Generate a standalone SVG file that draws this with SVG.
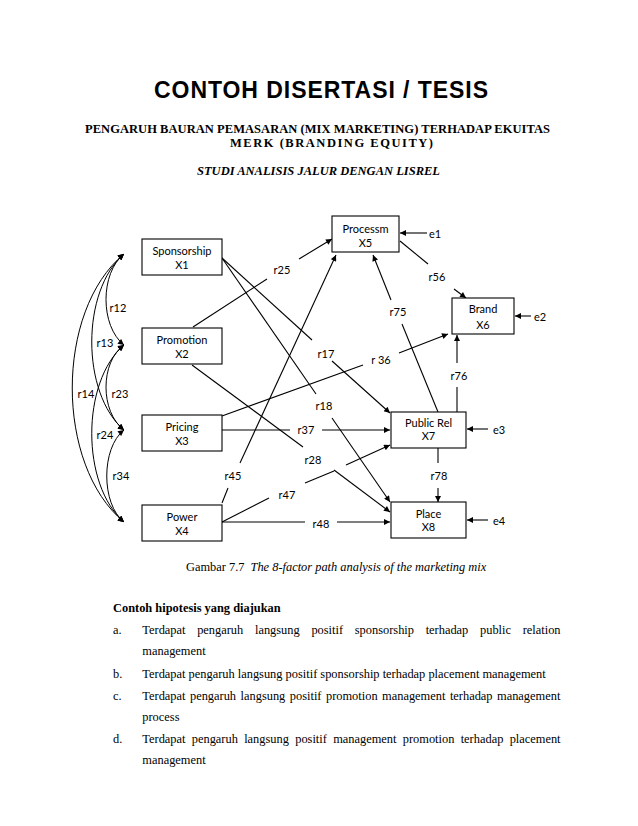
<svg xmlns="http://www.w3.org/2000/svg" width="638" height="826" viewBox="0 0 638 826">
<style>
.bx{fill:#fff;stroke:#000;stroke-width:1.1}
.nt{font-family:Lato,"Liberation Sans",sans-serif;font-size:11px;fill:#000;text-anchor:middle}
.lb{font-family:Lato,"Liberation Sans",sans-serif;font-size:11px;fill:#000;text-anchor:middle;dominant-baseline:central}
.ln{fill:none;stroke:#000;stroke-width:1.1}
.ar{marker-end:url(#ah)}
.cv{fill:none;stroke:#000;stroke-width:1;marker-start:url(#ah);marker-end:url(#ah)}
.tm{font-family:"Liberation Serif","Times New Roman",serif;font-size:12.4px;fill:#000}
.hd{font-family:"Liberation Serif","Times New Roman",serif;font-weight:bold;font-size:12.5px;fill:#000;text-anchor:middle}
</style>
<defs>
<marker id="ah" viewBox="0 0 10 10" refX="10" refY="5" markerWidth="7" markerHeight="6" orient="auto-start-reverse" markerUnits="userSpaceOnUse"><path d="M0,0 L10,5 L0,10 z" fill="#000"/></marker>
</defs>
<rect width="638" height="826" fill="#fff"/>

<g id="titles">
<text x="321" y="98" font-family="Liberation Sans,Arial,sans-serif" font-weight="bold" font-size="23" text-anchor="middle" textLength="334">CONTOH DISERTASI / TESIS</text>
<text class="hd" x="317.5" y="133" textLength="465">PENGARUH BAURAN PEMASARAN (MIX MARKETING) TERHADAP EKUITAS</text>
<text class="hd" x="331.5" y="147.2" textLength="203">MERK (BRANDING EQUITY)</text>
<text class="hd" x="318.5" y="175" font-style="italic" textLength="243">STUDI ANALISIS JALUR DENGAN LISREL</text>
</g>

<g id="connectors">
<path class="ln" d="M193,327 L267,279"/>
<path class="ln ar" d="M299,259 L332,239"/>
<path class="ln" d="M222,258 L312,340"/>
<path class="ln ar" d="M332,361 L390,413"/>
<path class="ln" d="M222,258 L316,394"/>
<path class="ln ar" d="M332,418 L390,502"/>
<path class="ln" d="M192,365 L303,447"/>
<path class="ln ar" d="M334,470 L390,512"/>
<path class="ln" d="M222,416 L363,365"/>
<path class="ln ar" d="M399,353 L448,334"/>
<path class="ln" d="M222,430 L290,430"/>
<path class="ln ar" d="M322,430 L390,430"/>
<path class="ln" d="M222,503 L228,488"/>
<path class="ln ar" d="M240,463 L336,255"/>
<path class="ln" d="M222,522 L269,498"/>
<path class="ln" d="M305,483 L334,471"/>
<path class="ln ar" d="M346,465 L390,445"/>
<path class="ln" d="M222,522 L305,522"/>
<path class="ln ar" d="M337,522 L390,522"/>
<path class="ln" d="M400,241 L428,264"/>
<path class="ln ar" d="M454,289 L466,298"/>
<path class="ln" d="M438,412 L402,324"/>
<path class="ln ar" d="M391,300 L373,255"/>
<path class="ln" d="M457,412 L457,387"/>
<path class="ln ar" d="M457,363 L457,335"/>
<path class="ln" d="M438,448 L438,463"/>
<path class="ln ar" d="M438,488 L438,502"/>
<path class="ln ar" d="M427,233 L400,233"/>
<path class="ln ar" d="M531,316 L515,316"/>
<path class="ln ar" d="M488,429 L467,429"/>
<path class="ln ar" d="M488,520 L467,520"/>
<path class="cv" d="M124,254 C100,273 100,326 124,345"/>
<path class="cv" d="M124,345 C100,362 100,412 124,430"/>
<path class="cv" d="M124,430 C101,448 101,504 124,522"/>
<path class="cv" d="M124,254 C81,291 81,393 124,430"/>
<path class="cv" d="M124,345 C81,382 81,485 124,522"/>
<path class="cv" d="M124,254 C55,311 55,465 124,522"/>
</g>

<g id="labels">
<text class="lb" x="282" y="269">r25</text>
<text class="lb" x="326" y="353">r17</text>
<text class="lb" x="324" y="405">r18</text>
<text class="lb" x="313" y="459">r28</text>
<text class="lb" x="381" y="359">r 36</text>
<text class="lb" x="306" y="429">r37</text>
<text class="lb" x="233" y="475">r45</text>
<text class="lb" x="287" y="494">r47</text>
<text class="lb" x="321" y="523">r48</text>
<text class="lb" x="437" y="276">r56</text>
<text class="lb" x="398" y="311">r75</text>
<text class="lb" x="459" y="375">r76</text>
<text class="lb" x="439" y="475">r78</text>
<text class="lb" x="435" y="233">e1</text>
<text class="lb" x="540" y="316">e2</text>
<text class="lb" x="499" y="429">e3</text>
<text class="lb" x="499" y="520">e4</text>
<text class="lb" x="118" y="307">r12</text>
<text class="lb" x="105" y="342">r13</text>
<text class="lb" x="86" y="393">r14</text>
<text class="lb" x="120" y="393">r23</text>
<text class="lb" x="105" y="434">r24</text>
<text class="lb" x="121" y="475">r34</text>
</g>

<g id="n1"><rect class="bx" x="142" y="239" width="80" height="36"/><text class="nt" x="182" y="255">Sponsorship</text><text class="nt" x="182" y="269">X1</text></g>
<g id="n2"><rect class="bx" x="142" y="328" width="80" height="36"/><text class="nt" x="182" y="344">Promotion</text><text class="nt" x="182" y="358">X2</text></g>
<g id="n3"><rect class="bx" x="142" y="415" width="80" height="36"/><text class="nt" x="182" y="431">Pricing</text><text class="nt" x="182" y="445">X3</text></g>
<g id="n4"><rect class="bx" x="142" y="505" width="80" height="36"/><text class="nt" x="182" y="521">Power</text><text class="nt" x="182" y="535">X4</text></g>
<g id="n5"><rect class="bx" x="332" y="216" width="67" height="36"/><text class="nt" x="365.5" y="232.5">Processm</text><text class="nt" x="365.5" y="246.5">X5</text></g>
<g id="n6"><rect class="bx" x="452" y="298" width="62" height="36"/><text class="nt" x="483" y="313">Brand</text><text class="nt" x="483" y="329">X6</text></g>
<g id="n7"><rect class="bx" x="391" y="412" width="75" height="36"/><text class="nt" x="428.5" y="426.5">Public Rel</text><text class="nt" x="428.5" y="440">X7</text></g>
<g id="n8"><rect class="bx" x="391" y="502" width="75" height="36"/><text class="nt" x="428.5" y="517.5">Place</text><text class="nt" x="428.5" y="531">X8</text></g>

<g id="text">
<text class="tm" x="186" y="571">Gambar 7.7<tspan font-style="italic" dx="6">The 8-factor path analysis of the marketing mix</tspan></text>
<text class="tm" x="113" y="612" font-weight="bold">Contoh hipotesis yang diajukan</text>
<text class="tm" x="113" y="634">a.</text>
<text class="tm" x="142.3" y="634" word-spacing="8.6">Terdapat pengaruh langsung positif sponsorship terhadap public relation</text>
<text class="tm" x="142.3" y="655">management</text>
<text class="tm" x="113" y="678">b.</text>
<text class="tm" x="142.3" y="678">Terdapat pengaruh langsung positif sponsorship terhadap placement management</text>
<text class="tm" x="113" y="700">c.</text>
<text class="tm" x="142.3" y="700" word-spacing="1.4">Terdapat pengaruh langsung positif promotion management terhadap management</text>
<text class="tm" x="142.3" y="721">process</text>
<text class="tm" x="113" y="743">d.</text>
<text class="tm" x="142.3" y="743" word-spacing="3.2">Terdapat pengaruh langsung positif management promotion terhadap placement</text>
<text class="tm" x="142.3" y="764">management</text>
</g>
</svg>
